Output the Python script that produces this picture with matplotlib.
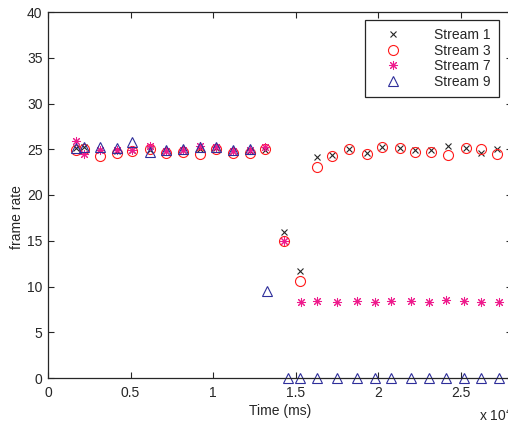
import matplotlib
matplotlib.use("Agg")
import matplotlib.pyplot as plt

plt.rcParams['font.family'] = ['Liberation Sans', 'DejaVu Sans']

# x in units of 10^4 ms
x_13 = [0.169, 0.218, 0.314, 0.417, 0.508, 0.616, 0.713, 0.816, 0.918, 1.015, 1.118, 1.221, 1.317,
        1.43, 1.527, 1.63, 1.72, 1.82, 1.93, 2.02, 2.13, 2.22, 2.32, 2.42, 2.53, 2.62, 2.72]
stream1 = [25.1, 25.2, 24.9, 24.8, 24.9, 24.9, 24.8, 24.9, 25.0, 25.1, 24.8, 24.8, 24.9,
           16.0, 11.65, 24.1, 24.4, 25.0, 24.6, 25.3, 25.1, 24.9, 24.9, 25.35, 25.1, 24.6, 25.0]
stream3 = [24.9, 25.0, 24.3, 24.6, 24.8, 25.0, 24.6, 24.7, 24.5, 25.0, 24.6, 24.6, 25.0,
           14.98, 10.6, 23.1, 24.3, 25.0, 24.5, 25.2, 25.1, 24.7, 24.7, 24.4, 25.1, 25.0, 24.5]

x_7 = [0.169, 0.218, 0.314, 0.417, 0.508, 0.616, 0.713, 0.816, 0.918, 1.015, 1.118, 1.221, 1.317,
       1.43, 1.53, 1.63, 1.75, 1.87, 1.98, 2.08, 2.2, 2.31, 2.41, 2.52, 2.62, 2.73]
stream7 = [25.9, 24.5, 24.9, 24.9, 24.9, 25.4, 24.8, 24.9, 25.4, 25.2, 24.8, 24.9, 25.3,
           15.0, 8.3, 8.4, 8.3, 8.4, 8.3, 8.4, 8.4, 8.3, 8.5, 8.4, 8.3, 8.3]

x_9 = [0.169, 0.218, 0.314, 0.417, 0.508, 0.616, 0.713, 0.816, 0.918, 1.015, 1.118, 1.221,
       1.327, 1.456, 1.529, 1.63, 1.75, 1.87, 1.98, 2.08, 2.2, 2.31, 2.41, 2.52, 2.62, 2.73]
stream9 = [25.1, 25.3, 25.2, 25.1, 25.8, 24.7, 24.9, 25.0, 25.3, 25.2, 24.9, 25.0,
           9.5, 0, 0, 0, 0, 0, 0, 0, 0, 0, 0, 0, 0, 0]

xticks = [0, 0.5, 1, 1.5, 2, 2.5]
xticklabels = ['0', '0.5', '1', '1.5', '2', '2.5']
yticks = [0, 5, 10, 15, 20, 25, 30, 35, 40]
yticklabels = [str(v) for v in yticks]

W, H = 508, 425
fig = plt.figure(figsize=(W / 100, H / 100), dpi=100)
fig.patch.set_facecolor('white')
ax = fig.add_axes([48 / W, 1 - 378 / H, (512 - 48) / W, (378 - 12) / H])

ax.plot(x_13, stream1, linestyle='none', marker='x', ms=3.8, mew=0.8, color='#262626',
        label='Stream 1', clip_on=False)
ax.plot(x_13, stream3, linestyle='none', marker='o', ms=7.2, mew=0.8, mfc='none', mec='#ff1a1a',
        label='Stream 3', clip_on=False)
ax.plot(x_7, stream7, linestyle='none', marker=(8, 2, 0), ms=6.5, mew=0.75, color='#ee1a8c',
        label='Stream 7', clip_on=False)
ax.plot(x_9, stream9, linestyle='none', marker='^', ms=7.5, mew=0.8, mfc='none', mec='#2e2e9a',
        label='Stream 9', clip_on=False)

ax.set_xlim(0, 2.81)
ax.set_ylim(0, 40)
ax.set_xticks(xticks)
ax.set_xticklabels(xticklabels)
ax.set_yticks(yticks)
ax.set_yticklabels(yticklabels)
ax.tick_params(direction='in', length=4, width=0.8, top=True, right=True, labelsize=10,
               colors='#262626')
ax.tick_params(axis='x', pad=6)
ax.tick_params(axis='y', pad=4)
for s in ax.spines.values():
    s.set_color('#262626')
    s.set_linewidth(0.9)

ax.set_xlabel('Time (ms)', fontsize=10, color='#262626', labelpad=3)
ax.set_ylabel('frame rate', fontsize=10, color='#262626')
ax.yaxis.set_label_coords(-24 / (512 - 48), (378 - 217) / (378 - 12))
fig.text(479 / W, 1 - 415 / H, 'x 10$^4$', fontsize=10, color='#262626', va='center', ha='left')

leg = ax.legend(loc='upper right', bbox_to_anchor=(499 / W, 1 - 20 / H), bbox_transform=fig.transFigure,
                borderaxespad=0, borderpad=0.6, handlelength=2.83, handletextpad=1.53, labelspacing=0.1,
                fancybox=False, framealpha=1, edgecolor='#262626', fontsize=10)
leg.get_frame().set_linewidth(0.9)
for t in leg.get_texts():
    t.set_color('#262626')

fig.savefig('out.png', dpi=100)
